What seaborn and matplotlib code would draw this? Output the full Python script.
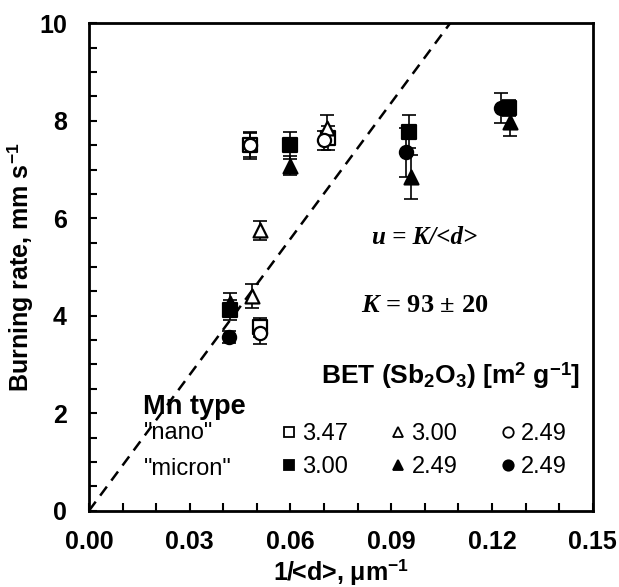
import matplotlib
matplotlib.use("Agg")
import matplotlib.pyplot as plt
from matplotlib.lines import Line2D
from matplotlib.ticker import MultipleLocator
import seaborn as sns
import pandas as pd
import numpy as np

sns.set_theme(style="white")
plt.rcParams['font.family'] = ['Liberation Sans', 'DejaVu Sans']
plt.rcParams['text.color'] = 'black'
plt.rcParams['axes.labelcolor'] = 'black'
plt.rcParams['xtick.color'] = 'black'
plt.rcParams['ytick.color'] = 'black'
plt.rcParams['mathtext.fontset'] = 'custom'
plt.rcParams['mathtext.rm'] = 'Liberation Sans:bold'
plt.rcParams['mathtext.it'] = 'Liberation Serif:italic:bold'
plt.rcParams['mathtext.bf'] = 'Liberation Sans:bold'

# "nano" Mn
nano_sq_x = [0.048, 0.051, 0.0712]
nano_sq_y = [7.50, 3.76, 7.65]
nano_sq_e = [0.28, 0.20, 0.25]
nano_tri_x = [0.0484, 0.0509, 0.0708]
nano_tri_y = [4.40, 5.75, 7.85]
nano_tri_e = [0.25, 0.20, 0.27]
nano_ci_x = [0.048, 0.051, 0.070]
nano_ci_y = [7.50, 3.64, 7.60]
nano_ci_e = [0.25, 0.22, 0.20]
# "micron" Mn
mic_sq_x = [0.042, 0.060, 0.0954, 0.1252]
mic_sq_y = [4.12, 7.50, 7.78, 8.26]
mic_sq_e = [0.20, 0.28, 0.34, 0.17]
mic_tri_x = [0.042, 0.060, 0.0958, 0.1254]
mic_tri_y = [4.26, 7.08, 6.85, 7.98]
mic_tri_e = [0.20, 0.20, 0.45, 0.30]
mic_ci_x = [0.0418, 0.0944, 0.1226]
mic_ci_y = [3.56, 7.35, 8.26]
mic_ci_e = [0.12, 0.50, 0.30]

K = 93
fit_x = [0.0, 10 / K]

series = [
    ("s", "white", "3.47", nano_sq_x, nano_sq_y, nano_sq_e),
    ("s", "black", "3.00", mic_sq_x, mic_sq_y, mic_sq_e),
    ("^", "white", "3.00", nano_tri_x, nano_tri_y, nano_tri_e),
    ("^", "black", "2.49", mic_tri_x, mic_tri_y, mic_tri_e),
    ("o", "white", "2.49", nano_ci_x, nano_ci_y, nano_ci_e),
    ("o", "black", "2.49", mic_ci_x, mic_ci_y, mic_ci_e),
]

fig = plt.figure(figsize=(6.19, 5.87), dpi=100)
ax = fig.add_axes([89 / 619, 1 - 510.7 / 587, 503.7 / 619, 487.4 / 587])

fit = pd.DataFrame({"x": fit_x, "y": [K * v for v in fit_x]})
sns.lineplot(data=fit, x="x", y="y", ax=ax, color="black", lw=1.8,
             dashes=False, zorder=1)
ax.lines[-1].set_dashes([4.5, 3])

handles, labels = [], []
for m, fc, lab, xs, ys, es in series:
    ax.errorbar(xs, ys, yerr=es, fmt="none", ecolor="black", elinewidth=1.2,
                capsize=4.7, capthick=1.2, zorder=2)
    sns.scatterplot(x=xs, y=ys, marker=m, s=90 if m != "^" else 100,
                    color=fc, edgecolor="black", linewidth=1.6, ax=ax, zorder=3)
    handles.append(Line2D([], [], ls="none", marker=m, markersize=7.5,
                          markerfacecolor=fc, markeredgecolor="black",
                          markeredgewidth=1.3))
    labels.append(lab)

ax.set_xlim(0, 0.15)
ax.set_ylim(0, 10)
ax.set_xticks([0, 0.03, 0.06, 0.09, 0.12, 0.15])
ax.set_xticklabels(["0.00", "0.03", "0.06", "0.09", "0.12", "0.15"])
ax.set_yticks([0, 2, 4, 6, 8, 10])
ax.xaxis.set_minor_locator(MultipleLocator(0.01))
ax.yaxis.set_minor_locator(MultipleLocator(0.5))
ax.tick_params(which="both", direction="in", length=6, width=1.5,
               bottom=True, left=True, labelsize=18)
ax.tick_params(axis="x", pad=14)
ax.tick_params(axis="y", pad=16)
for t in ax.get_xticklabels() + ax.get_yticklabels():
    t.set_fontweight("bold")
for sp in ax.spines.values():
    sp.set_color("black")
    sp.set_linewidth(2)

ax.set_xlabel("1/<d>, μm$^{−1}$", fontsize=18, fontweight="bold", labelpad=2)
ax.set_ylabel("Burning rate, mm s$^{−1}$", fontsize=18, fontweight="bold",
              labelpad=3)

ax.text(0.1, 5.6, "u = K/<d>", family="Liberation Serif", style="italic",
        weight="bold", fontsize=18, ha="center", va="center")
ax.text(0.1, 4.22, "$K$ = 93 ± 20", family="Liberation Serif",
        weight="bold", fontsize=19, ha="center", va="center")

ax.text(0.975, 0.278, "BET (Sb$_2$O$_3$) [m$^2$ g$^{−1}$]", transform=ax.transAxes,
        fontsize=19, fontweight="bold", ha="right", va="center")
ax.text(0.108, 0.212, "Mn type", transform=ax.transAxes, fontsize=19.5,
        fontweight="bold", ha="left", va="center")
ax.text(0.108, 0.160, '"nano"', transform=ax.transAxes, fontsize=17,
        ha="left", va="center")
ax.text(0.108, 0.086, '"micron"', transform=ax.transAxes, fontsize=17,
        ha="left", va="center")

ax.legend(handles, labels, ncol=3, frameon=False, fontsize=17,
          loc="center left", bbox_to_anchor=(0.38, 0.123),
          handlelength=0.7, handletextpad=0.2, columnspacing=1.8,
          labelspacing=0.45, borderpad=0, borderaxespad=0)

fig.savefig("out.png", dpi=100)
